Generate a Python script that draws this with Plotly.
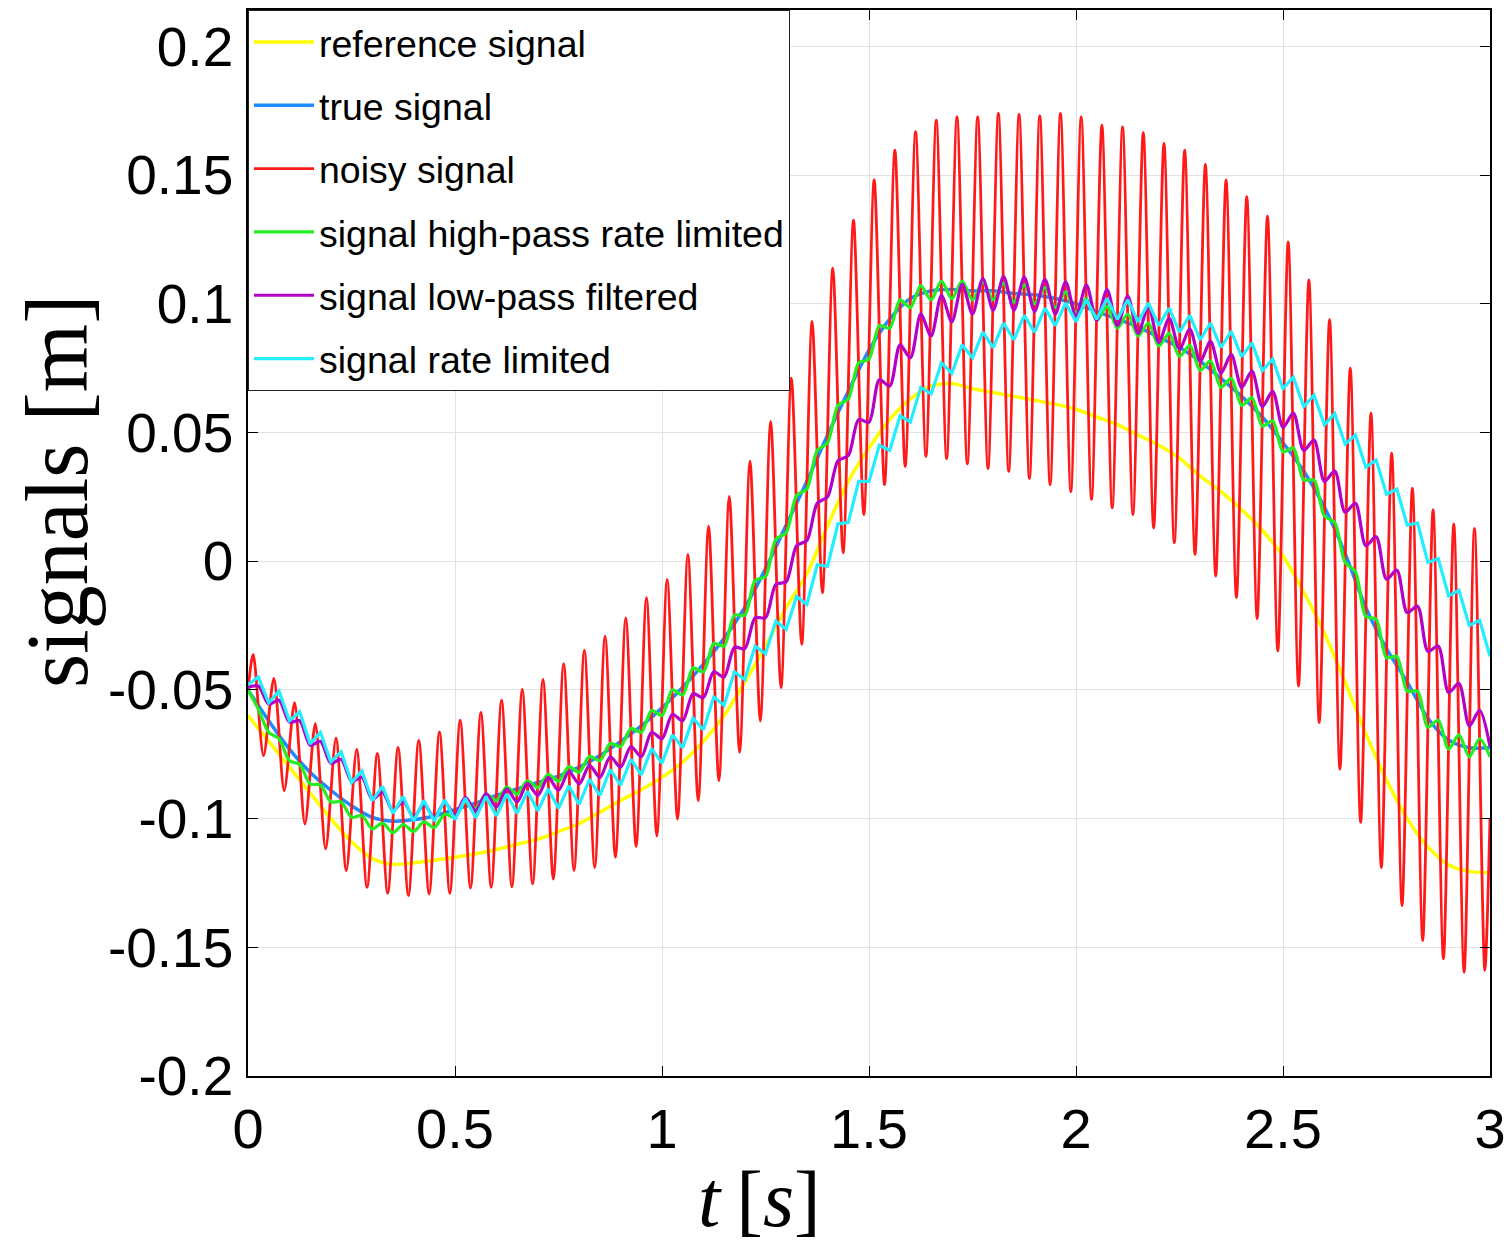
import numpy as np
import plotly.graph_objects as go

# ---------------- data ----------------
# smooth signals sampled every 0.05 s from t = 0 to 3
t_smooth = [round(0.05 * i, 3) for i in range(61)]

reference_signal = [
    -0.060, -0.070, -0.080, -0.090, -0.100, -0.109, -0.1155, -0.1178, -0.1172, -0.1162,
    -0.115, -0.1137, -0.112, -0.110, -0.108, -0.105, -0.102, -0.0975, -0.093, -0.0888,
    -0.084, -0.078, -0.070, -0.060, -0.047, -0.033, -0.018, -0.005, 0.0138, 0.031,
    0.044, 0.055, 0.063, 0.068, 0.069, 0.067, 0.0655, 0.064, 0.0625, 0.061,
    0.059, 0.056, 0.053, 0.049, 0.045, 0.040, 0.033, 0.027, 0.020, 0.012,
    0.002, -0.012, -0.028, -0.047, -0.067, -0.085, -0.100, -0.111, -0.118, -0.1205,
    -0.121]

true_signal = [
    -0.050, -0.062, -0.073, -0.082, -0.089, -0.095, -0.0995, -0.101, -0.1005, -0.099,
    -0.0965, -0.094, -0.091, -0.0885, -0.086, -0.0835, -0.080, -0.0755, -0.070, -0.064,
    -0.057, -0.049, -0.040, -0.030, -0.018, -0.003, 0.014, 0.031, 0.049, 0.066,
    0.082, 0.094, 0.102, 0.105, 0.1055, 0.105, 0.105, 0.104, 0.1035, 0.102,
    0.100, 0.097, 0.094, 0.091, 0.087, 0.083, 0.0776, 0.071, 0.064, 0.056,
    0.046, 0.035, 0.021, 0.003, -0.018, -0.034, -0.047, -0.061, -0.0695, -0.0725,
    -0.0725]

# noisy signal: peaks at t = 0.0125 + 0.05k, troughs at t = 0.0375 + 0.05k
noisy_start = -0.050
noisy_end = -0.100
noisy_peaks = [
    -0.0362, -0.0455, -0.0550, -0.0631, -0.0688, -0.0731, -0.0747, -0.0724, -0.0696, -0.0663,
    -0.0618, -0.0588, -0.0540, -0.0498, -0.0459, -0.0398, -0.0346, -0.0291, -0.0220, -0.0142,
    -0.0071, 0.0026, 0.0136, 0.0252, 0.0388, 0.0543, 0.0711, 0.0931, 0.1138, 0.1325,
    0.1481, 0.1597, 0.1668, 0.1713, 0.1726, 0.1726, 0.1739, 0.1735, 0.1730, 0.1739,
    0.1726, 0.1694, 0.1687, 0.1665, 0.1623, 0.1597, 0.1541, 0.1481, 0.1416, 0.1340,
    0.1240, 0.1093, 0.0938, 0.0750, 0.0575, 0.0420, 0.0284, 0.0200, 0.0145, 0.0127]
noisy_troughs = [
    -0.0756, -0.0892, -0.1021, -0.1118, -0.1202, -0.1267, -0.1290, -0.1299, -0.1293, -0.1290,
    -0.1270, -0.1267, -0.1265, -0.1254, -0.1235, -0.1202, -0.1190, -0.1151, -0.1109, -0.1067,
    -0.1002, -0.0931, -0.0853, -0.0743, -0.0621, -0.0491, -0.0323, -0.0123, 0.0032, 0.0181,
    0.0297, 0.0368, 0.0407, 0.0398, 0.0378, 0.0360, 0.0349, 0.0321, 0.0297, 0.0270,
    0.0240, 0.0207, 0.0181, 0.0129, 0.0071, 0.0026, -0.0058, -0.0142, -0.0223, -0.0349,
    -0.0485, -0.0627, -0.0808, -0.1015, -0.1190, -0.1338, -0.1474, -0.1545, -0.1597, -0.1590]

# filtered signals sampled every 0.025 s (troughs at 0.05k, peaks at 0.05k + 0.025)
t_ripple = [round(0.025 * i, 4) for i in range(121)]

highpass_rate_limited = [
    -0.050, -0.0575, -0.0665, -0.069, -0.0775, -0.079, -0.0865, -0.087, -0.0935, -0.0935,
    -0.0995, -0.0988, -0.104, -0.1018, -0.1055, -0.1023, -0.105, -0.1013, -0.1035, -0.0983,
    -0.0995, -0.0933, -0.096, -0.0905, -0.093, -0.0878, -0.0905, -0.0853, -0.088, -0.0828,
    -0.0855, -0.0798, -0.082, -0.0758, -0.0775, -0.0708, -0.072, -0.065, -0.0665, -0.058,
    -0.060, -0.050, -0.052, -0.0415, -0.043, -0.032, -0.033, -0.021, -0.021, -0.0075,
    -0.006, 0.0085, 0.011, 0.0255, 0.028, 0.043, 0.046, 0.0605, 0.063, 0.077,
    0.0785, 0.0915, 0.0905, 0.1015, 0.0985, 0.107, 0.1015, 0.1088, 0.102, 0.1088,
    0.1015, 0.1085, 0.1015, 0.108, 0.1005, 0.1073, 0.100, 0.1063, 0.0985, 0.1045,
    0.0965, 0.102, 0.0935, 0.099, 0.0905, 0.096, 0.0875, 0.0925, 0.0835, 0.0885,
    0.0795, 0.0838, 0.0741, 0.0778, 0.0675, 0.071, 0.0605, 0.0635, 0.0525, 0.0545,
    0.0425, 0.044, 0.0315, 0.0315, 0.0175, 0.015, -0.0005, -0.004, -0.0215, -0.0225,
    -0.0375, -0.037, -0.0505, -0.0505, -0.0645, -0.0618, -0.073, -0.0675, -0.076, -0.069,
    -0.076]

lowpass_filtered = [
    -0.049, -0.0485, -0.0555, -0.054, -0.0625, -0.062, -0.0715, -0.070, -0.0785, -0.077,
    -0.0855, -0.084, -0.0925, -0.0898, -0.097, -0.0933, -0.0995, -0.0945, -0.0995, -0.0938,
    -0.0985, -0.0918, -0.097, -0.0903, -0.0955, -0.0885, -0.0935, -0.0863, -0.091, -0.084,
    -0.089, -0.0818, -0.0865, -0.0793, -0.084, -0.076, -0.080, -0.072, -0.076, -0.0665,
    -0.069, -0.0595, -0.062, -0.0515, -0.053, -0.043, -0.045, -0.0335, -0.034, -0.022,
    -0.022, -0.009, -0.008, 0.006, 0.008, 0.0225, 0.025, 0.039, 0.041, 0.055,
    0.054, 0.0705, 0.068, 0.084, 0.079, 0.096, 0.0875, 0.1033, 0.093, 0.1075,
    0.096, 0.1098, 0.0975, 0.1105, 0.0975, 0.1103, 0.097, 0.1095, 0.096, 0.1085,
    0.095, 0.1073, 0.0935, 0.1055, 0.0915, 0.103, 0.0885, 0.099, 0.085, 0.0943,
    0.0825, 0.0901, 0.0777, 0.0854, 0.073, 0.0803, 0.0675, 0.0738, 0.060, 0.066,
    0.052, 0.0575, 0.043, 0.047, 0.031, 0.035, 0.019, 0.0225, 0.006, 0.0095,
    -0.007, -0.0035, -0.020, -0.0175, -0.035, -0.033, -0.051, -0.0475, -0.064, -0.058,
    -0.072]

rate_limited = [
    -0.048, -0.045, -0.055, -0.0505, -0.062, -0.0585, -0.071, -0.0665, -0.078, -0.074,
    -0.086, -0.0815, -0.093, -0.0875, -0.098, -0.0915, -0.101, -0.093, -0.101, -0.0928,
    -0.1005, -0.0921, -0.0997, -0.0914, -0.099, -0.0905, -0.098, -0.0895, -0.097, -0.0885,
    -0.096, -0.0873, -0.0945, -0.0848, -0.091, -0.081, -0.087, -0.077, -0.083, -0.0728,
    -0.0785, -0.0675, -0.0725, -0.061, -0.0655, -0.0528, -0.056, -0.043, -0.046, -0.033,
    -0.036, -0.0233, -0.0265, -0.0137, -0.0168, -0.0014, -0.002, 0.0145, 0.015, 0.031,
    0.031, 0.045, 0.043, 0.0565, 0.054, 0.0675, 0.065, 0.077, 0.073, 0.084,
    0.079, 0.089, 0.083, 0.0925, 0.086, 0.0955, 0.089, 0.0983, 0.0915, 0.1003,
    0.093, 0.1015, 0.094, 0.102, 0.094, 0.1015, 0.093, 0.1003, 0.0915, 0.0983,
    0.089, 0.0955, 0.086, 0.0925, 0.083, 0.0893, 0.0795, 0.0848, 0.074, 0.0785,
    0.067, 0.0715, 0.060, 0.0645, 0.053, 0.0573, 0.0455, 0.049, 0.0365, 0.0393,
    0.026, 0.028, 0.014, 0.0148, -0.0005, 0.001, -0.0135, -0.0113, -0.025, -0.023,
    -0.037]

x_tick_vals = [0, 0.5, 1, 1.5, 2, 2.5, 3]
x_tick_text = ["0", "0.5", "1", "1.5", "2", "2.5", "3"]
y_tick_vals = [-0.2, -0.15, -0.1, -0.05, 0, 0.05, 0.1, 0.15, 0.2]
y_tick_text = ["-0.2", "-0.15", "-0.1", "-0.05", "0", "0.05", "0.1", "0.15", "0.2"]

# ---------------- build noisy series ----------------
t_noisy = [0.0]
noisy_signal = [noisy_start]
for k in range(len(noisy_peaks)):
    t_noisy.append(round(0.0125 + 0.05 * k, 4))
    noisy_signal.append(noisy_peaks[k])
    t_noisy.append(round(0.0375 + 0.05 * k, 4))
    noisy_signal.append(noisy_troughs[k])
t_noisy.append(3.0)
noisy_signal.append(noisy_end)

# ---------------- figure ----------------
fig = go.Figure()

series = [
    ("reference signal", t_smooth, reference_signal, "#ffff00", 3.5, "spline"),
    ("true signal", t_smooth, true_signal, "#1e8cff", 3.5, "spline"),
    ("noisy signal", t_noisy, noisy_signal, "#ff1a1a", 2.8, "spline"),
    ("signal high-pass rate limited", t_ripple, highpass_rate_limited, "#22ee22", 3.2, "spline"),
    ("signal low-pass filtered", t_ripple, lowpass_filtered, "#b400c8", 3.2, "spline"),
    ("signal rate limited", t_ripple, rate_limited, "#22eeff", 3.2, "linear"),
]
for i, (name, tx, vals, col, w, shape) in enumerate(series):
    fig.add_trace(go.Scatter(
        x=tx, y=vals, mode="lines", name=name,
        legendgroup=f"g{i}",
        line=dict(color=col, width=w, shape=shape, smoothing=0.8 if shape == "spline" else None),
    ))

# the page adds an 8 px body margin, so the figure is 8 px smaller and shifted
fig.update_layout(
    width=1504, height=1240,
    margin=dict(l=240, r=22, t=0, b=172),
    paper_bgcolor="white", plot_bgcolor="white",
    font=dict(family="Liberation Sans, Arial, sans-serif", color="black"),
    showlegend=True,
    legend=dict(
        x=0, y=1, xanchor="left", yanchor="top",
        bgcolor="white", bordercolor="#222222", borderwidth=1,
        font=dict(family="Liberation Sans, Arial, sans-serif", size=37.5, color="black"),
        traceorder="grouped", tracegroupgap=11.6, itemwidth=60,
    ),
    xaxis=dict(
        range=[0, 3], tickmode="array", tickvals=x_tick_vals, ticktext=x_tick_text,
        showgrid=True, gridcolor="#e2e2e2", gridwidth=1, zeroline=False,
        showline=True, linecolor="black", linewidth=1.5, mirror="allticks",
        ticks="inside", ticklen=10, tickcolor="black",
        tickfont=dict(family="Liberation Sans, Arial", size=56, color="black"),
        ticklabelstandoff=3,
    ),
    yaxis=dict(
        range=[-0.2, 0.2141], tickmode="array", tickvals=y_tick_vals, ticktext=y_tick_text,
        showgrid=True, gridcolor="#e2e2e2", gridwidth=1, zeroline=False,
        showline=True, linecolor="black", linewidth=1.5, mirror="allticks",
        ticks="inside", ticklen=10, tickcolor="black",
        tickfont=dict(family="Liberation Sans, Arial", size=55, color="black"),
        ticklabelstandoff=2,
    ),
    annotations=[
        dict(text="signals [m]", textangle=-90, xref="paper", yref="paper",
             x=-0.1538, y=0.5487, xanchor="center", yanchor="middle", showarrow=False,
             font=dict(family="Liberation Serif, Times New Roman, serif", size=88, color="black")),
        dict(text="<i>t</i>\u2009[<i>s</i>]", xref="paper", yref="paper",
             x=0.4122, y=-0.1150, xanchor="center", yanchor="middle", showarrow=False,
             font=dict(family="Liberation Serif, Times New Roman, serif", size=80, color="black")),
    ],
)

fig.write_html("out.html")
